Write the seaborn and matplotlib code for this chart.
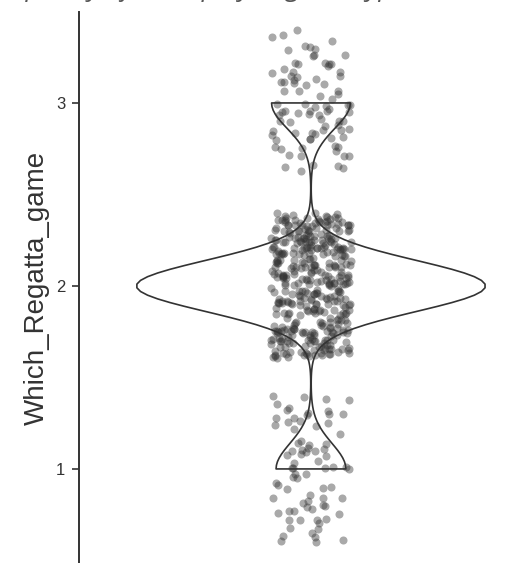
import numpy as np
import pandas as pd
import seaborn as sns
import matplotlib
matplotlib.use("Agg")
import matplotlib.pyplot as plt

# ---- data ----
game_levels = [1, 2, 3]          # Which_Regatta_game values
game_counts = [78, 390, 88]      # number of respondents at each level
y_ticks = [1, 2, 3]
title_text = "Frequency of most played game types"
y_label = "Which_Regatta_game"

values = np.repeat(game_levels, game_counts).astype(float)

# display jitter (as in the original jittered point layer)
rng = np.random.default_rng(7)
jitter_height = 0.4
values_jittered = values + rng.uniform(-jitter_height, jitter_height, values.size)

df = pd.DataFrame({"Which_Regatta_game": values})
df_pts = pd.DataFrame({"Which_Regatta_game": values_jittered})

sns.set_style("ticks")
plt.rcParams["font.family"] = ["Liberation Sans", "DejaVu Sans"]

W, H = 529, 563
fig = plt.figure(figsize=(W / 100, H / 100), dpi=100)
ax = fig.add_axes([79 / W, 0.0, 1 - 79 / W, 1 - 12 / H])

np.random.seed(3)
sns.stripplot(data=df_pts, y="Which_Regatta_game", ax=ax, jitter=0.092,
              color="#333333", alpha=0.42, size=5.8, linewidth=0, zorder=1)
sns.violinplot(data=df, y="Which_Regatta_game", ax=ax, cut=0, bw_adjust=0.9,
               inner=None, fill=False, color="#333333", linewidth=1.2,
               width=0.8, zorder=2)

ax.set_xlim(-0.533, 0.501)
ax.set_ylim(0.486, 3.497)
ax.set_yticks(y_ticks)
ax.set_yticklabels([str(t) for t in y_ticks])
ax.set_xticks([])
ax.set_xlabel("")
ax.set_ylabel(y_label, fontsize=20, color="#333333", labelpad=4)
ax.tick_params(axis="y", length=5, width=1.2, colors="#333333",
               labelsize=12, pad=5, labelcolor="#333333")
for s in ["top", "right", "bottom"]:
    ax.spines[s].set_visible(False)
ax.spines["left"].set_color("#333333")
ax.spines["left"].set_linewidth(1.4)

fig.text(418 / W, 1 + 4 / H, title_text, ha="right", va="baseline",
         fontsize=19, style="italic", color="#555555",
         family=["Open Sans", "DejaVu Sans"])

fig.savefig("out.png", dpi=100)
